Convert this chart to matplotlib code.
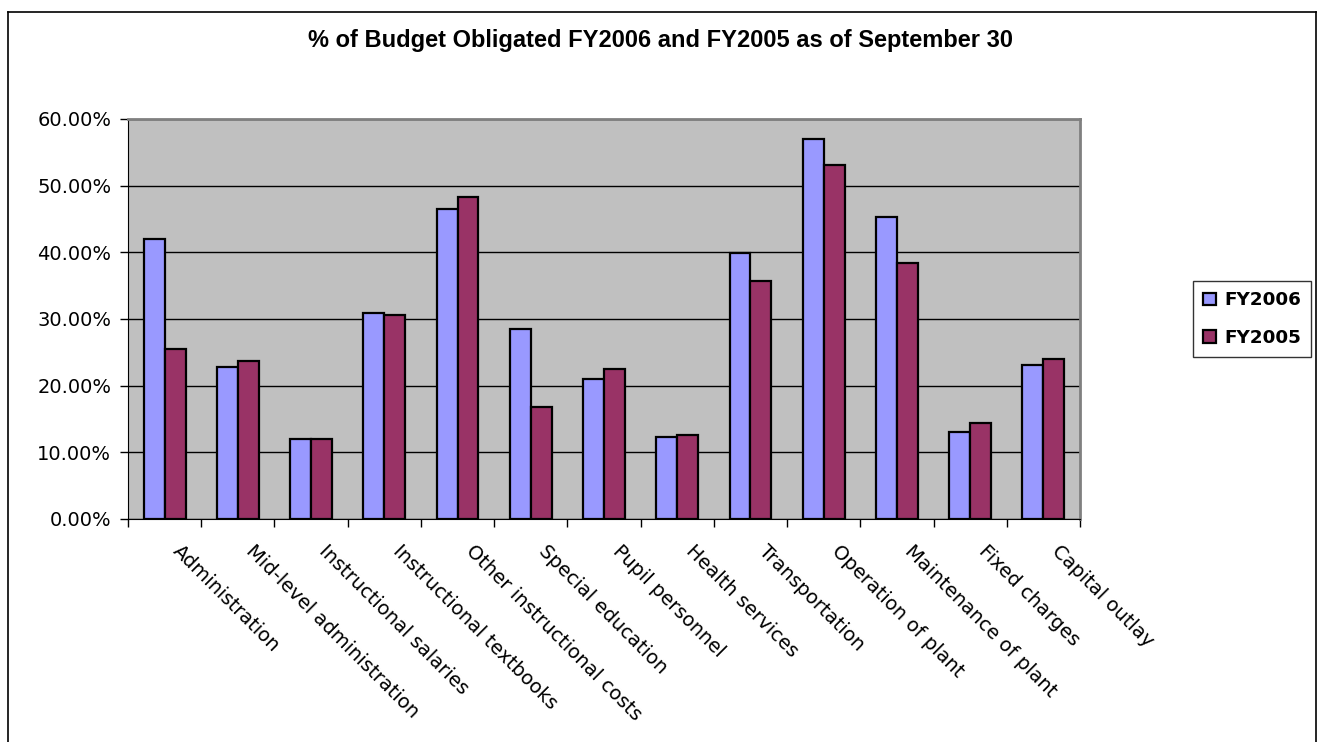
import matplotlib
matplotlib.use('Agg')
import matplotlib.pyplot as plt
import matplotlib.transforms as mtransforms
import numpy as np
from matplotlib.ticker import FuncFormatter, FixedLocator
from matplotlib.lines import Line2D

# categories and values (fractions of budget obligated)
categories = ['Administration', 'Mid-level administration', 'Instructional salaries',
              'Instructional textbooks', 'Other instructional costs', 'Special education',
              'Pupil personnel', 'Health services', 'Transportation', 'Operation of plant',
              'Maintenance of plant', 'Fixed charges', 'Capital outlay']
fy2006 = [0.420, 0.228, 0.120, 0.309, 0.465, 0.285, 0.210, 0.123, 0.399, 0.570, 0.453, 0.130, 0.231]
fy2005 = [0.255, 0.237, 0.120, 0.306, 0.483, 0.168, 0.225, 0.126, 0.357, 0.531, 0.384, 0.144, 0.240]
y_ticks = [0.0, 0.1, 0.2, 0.3, 0.4, 0.5, 0.6]

W, H = 1321, 742
fig = plt.figure(figsize=(W / 100, H / 100), dpi=100)
ax = fig.add_axes([128 / W, 1 - 519 / H, (1080 - 128) / W, (519 - 119) / H])
ax.set_facecolor('#C0C0C0')

x = np.arange(len(categories))
bw = 0.286
ax.bar(x - bw / 2, fy2006, bw, color='#9999FF', edgecolor='black', linewidth=1.6, label='FY2006', zorder=3)
ax.bar(x + bw / 2, fy2005, bw, color='#993366', edgecolor='black', linewidth=1.6, label='FY2005', zorder=3)

ax.set_xlim(-0.5, len(categories) - 0.5)
ax.set_ylim(0, 0.6)
ax.set_yticks(y_ticks)
ax.yaxis.set_major_formatter(FuncFormatter(lambda v, p: f'{v * 100:.2f}%'))
ax.yaxis.grid(True, color='black', linewidth=1, zorder=1)
ax.set_axisbelow(True)

ax.set_xticks(x)
ax.set_xticklabels(categories, rotation=-45, ha='left', va='top', rotation_mode='anchor',
                   fontsize=14, family='DejaVu Sans')
ax.tick_params(axis='x', which='major', length=0, pad=16)
shift = mtransforms.ScaledTranslation(18 / 100, 0, fig.dpi_scale_trans)
for lab in ax.get_xticklabels():
    lab.set_transform(lab.get_transform() + shift)
ax.xaxis.set_minor_locator(FixedLocator(np.arange(-0.5, len(categories), 1.0)))
ax.tick_params(axis='x', which='minor', length=6, width=1, color='black')
ax.tick_params(axis='y', length=6, width=1, labelsize=14, pad=6)
for lab in ax.get_yticklabels():
    lab.set_family('DejaVu Sans')

for side in ['top', 'right']:
    ax.spines[side].set_color('#808080')
    ax.spines[side].set_linewidth(2)
ax.spines['left'].set_color('black')
ax.spines['bottom'].set_color('black')

fig.text(0.5, 1 - 41 / H, '% of Budget Obligated FY2006 and FY2005 as of September 30',
         ha='center', va='center', fontsize=17, fontweight='bold', family='Liberation Sans')

leg = ax.legend(loc='center left', bbox_to_anchor=(1193 / W, 1 - 319 / H),
                bbox_transform=fig.transFigure, frameon=True, fancybox=False,
                prop={'family': 'DejaVu Sans', 'weight': 'bold', 'size': 13.2},
                handlelength=0.7, handleheight=0.7, handletextpad=0.45, borderpad=0.55,
                labelspacing=1.05, borderaxespad=0)
leg.get_frame().set_edgecolor('black')
leg.get_frame().set_linewidth(1)

# outer chart border
fig.add_artist(Line2D([8 / W, 8 / W], [0, 1 - 12 / H], color='black', lw=1.2, transform=fig.transFigure))
fig.add_artist(Line2D([8 / W, 1316 / W], [1 - 12 / H, 1 - 12 / H], color='black', lw=1.2, transform=fig.transFigure))
fig.add_artist(Line2D([1316 / W, 1316 / W], [0, 1 - 12 / H], color='black', lw=1.2, transform=fig.transFigure))

fig.savefig('out.png', dpi=100)
